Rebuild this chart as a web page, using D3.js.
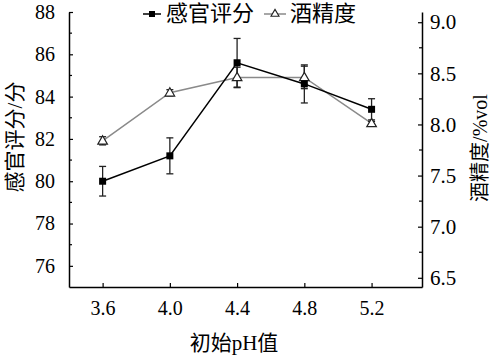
<!DOCTYPE html>
<html><head><meta charset="utf-8">
<script src="https://cdn.jsdelivr.net/npm/d3@7"></script>
<style>body{margin:0;background:#fff}</style>
</head><body>
<svg id="c" width="493" height="357"></svg>
<script>
const phValues = [3.6, 4.0, 4.4, 4.8, 5.2];
const sensoryScore = [80.0, 81.2, 85.6, 84.6, 83.4];
const sensoryErr = [0.7, 0.85, 1.15, 0.9, 0.5];
const alcohol = [7.84, 8.31, 8.46, 8.46, 8.01];
const alcoholErr = [0.04, 0.03, 0.1, 0.11, 0.02];
const xTicks = [3.6, 4.0, 4.4, 4.8, 5.2];
const yLeftTicks = [76, 78, 80, 82, 84, 86, 88];
const yLeftMinor = [77, 79, 81, 83, 85, 87];
const yRightTicks = [6.5, 7.0, 7.5, 8.0, 8.5, 9.0];
const yRightMinor = [6.75, 7.25, 7.75, 8.25, 8.75];
const seriesNames = ["感官评分", "酒精度"];

const svg = d3.select("#c");
const L = 69, R = 422, T = 12, B = 287;
const x = d3.scaleLinear().domain([3.4, 5.5]).range([L, R]);
const yL = d3.scaleLinear().domain([75, 88]).range([B, T]);
const yR = d3.scaleLinear().domain([6.41, 9.1]).range([B, T]);
const numFont = "'Liberation Serif','Times New Roman',serif";
const cjkFont = "'Liberation Serif','Noto Sans CJK SC',serif";

function styleAxis(g, size) {
  g.select(".domain").attr("stroke", "#000").attr("stroke-width", 1.5);
  g.selectAll(".tick line").attr("stroke", "#000").attr("stroke-width", 1.2);
  g.selectAll(".tick text").attr("font-family", numFont).attr("font-size", size).attr("fill", "#000");
}

// x axis
const gx = svg.append("g").attr("transform", `translate(0,${B})`)
  .call(d3.axisBottom(x).tickValues(xTicks).tickFormat(d3.format(".1f")).tickSizeInner(-4).tickSizeOuter(0).tickPadding(14));
styleAxis(gx, 20);

// left axis
const gl = svg.append("g").attr("transform", `translate(${L},0)`)
  .call(d3.axisLeft(yL).tickValues(yLeftTicks).tickFormat(d3.format("d")).tickSizeInner(-4).tickSizeOuter(0).tickPadding(14));
styleAxis(gl, 20);
gl.selectAll(".minor").data(yLeftMinor).enter().append("line")
  .attr("x1", 0).attr("x2", 3).attr("y1", d => yL(d)).attr("y2", d => yL(d))
  .attr("stroke", "#000").attr("stroke-width", 1.2);

// right axis
const gr = svg.append("g").attr("transform", `translate(${R},0)`)
  .call(d3.axisRight(yR).tickValues(yRightTicks).tickFormat(d3.format(".1f")).tickSizeInner(-4).tickSizeOuter(0).tickPadding(8));
styleAxis(gr, 21);
gr.selectAll(".minor").data(yRightMinor).enter().append("line")
  .attr("x1", 0).attr("x2", -3).attr("y1", d => yR(d)).attr("y2", d => yR(d))
  .attr("stroke", "#000").attr("stroke-width", 1.2);

// axis titles
svg.append("text").attr("x", 234).attr("y", 350).attr("text-anchor", "middle")
  .attr("font-family", cjkFont).attr("font-size", 21).text("初始pH值");
svg.append("text").attr("transform", "translate(22,137) rotate(-90)").attr("text-anchor", "middle")
  .attr("font-family", cjkFont).attr("font-size", 21).text("感官评分/分");
svg.append("text").attr("transform", "translate(487,148) rotate(-90)").attr("text-anchor", "middle")
  .attr("font-family", cjkFont).attr("font-size", 20).text("酒精度/%vol");

const grayCol = "#8a8a8a";
// alcohol series (gray, triangles)
const lineR = d3.line().x((d, i) => x(phValues[i])).y(d => yR(d));
svg.append("path").datum(alcohol).attr("d", lineR).attr("fill", "none").attr("stroke", grayCol).attr("stroke-width", 1.5);
// sensory series (black, squares)
const lineL = d3.line().x((d, i) => x(phValues[i])).y(d => yL(d));
svg.append("path").datum(sensoryScore).attr("d", lineL).attr("fill", "none").attr("stroke", "#000").attr("stroke-width", 1.5);

function errBars(vals, errs, scale, col) {
  const g = svg.append("g").attr("stroke", col).attr("stroke-width", 1.3);
  vals.forEach((v, i) => {
    const cx = x(phValues[i]);
    const y1 = scale(v + errs[i]), y2 = scale(v - errs[i]);
    g.append("line").attr("x1", cx).attr("x2", cx).attr("y1", y1).attr("y2", y2);
    g.append("line").attr("x1", cx - 3.5).attr("x2", cx + 3.5).attr("y1", y1).attr("y2", y1);
    g.append("line").attr("x1", cx - 3.5).attr("x2", cx + 3.5).attr("y1", y2).attr("y2", y2);
  });
}
errBars(sensoryScore, sensoryErr, yL, "#222");
errBars(alcohol, alcoholErr, yR, "#222");

const tri = d3.symbol().type(d3.symbolTriangle).size(40);
svg.append("g").selectAll("path").data(alcohol).enter().append("path")
  .attr("d", tri).attr("transform", (d, i) => `translate(${x(phValues[i])},${yR(d) + 0.5})`)
  .attr("fill", "#fff").attr("stroke", "#222").attr("stroke-width", 1.2);
svg.append("g").selectAll("rect").data(sensoryScore).enter().append("rect")
  .attr("x", (d, i) => x(phValues[i]) - 3.5).attr("y", d => yL(d) - 3.5)
  .attr("width", 7).attr("height", 7).attr("fill", "#000");

// legend
const ly = 14;
const lg = svg.append("g");
lg.append("line").attr("x1", 143).attr("x2", 161).attr("y1", ly).attr("y2", ly).attr("stroke", "#000").attr("stroke-width", 1.5);
lg.append("rect").attr("x", 149).attr("y", ly - 3).attr("width", 6).attr("height", 6).attr("fill", "#000");
lg.append("text").attr("x", 166).attr("y", ly + 7).attr("font-family", cjkFont).attr("font-size", 22).text(seriesNames[0]);
lg.append("line").attr("x1", 264).attr("x2", 286).attr("y1", ly).attr("y2", ly).attr("stroke", grayCol).attr("stroke-width", 1.5);
lg.append("path").attr("d", d3.symbol().type(d3.symbolTriangle).size(28)).attr("transform", `translate(275,${ly})`)
  .attr("fill", "#fff").attr("stroke", "#222").attr("stroke-width", 1.1);
lg.append("text").attr("x", 290).attr("y", ly + 7).attr("font-family", cjkFont).attr("font-size", 22).text(seriesNames[1]);
</script>
</body></html>
